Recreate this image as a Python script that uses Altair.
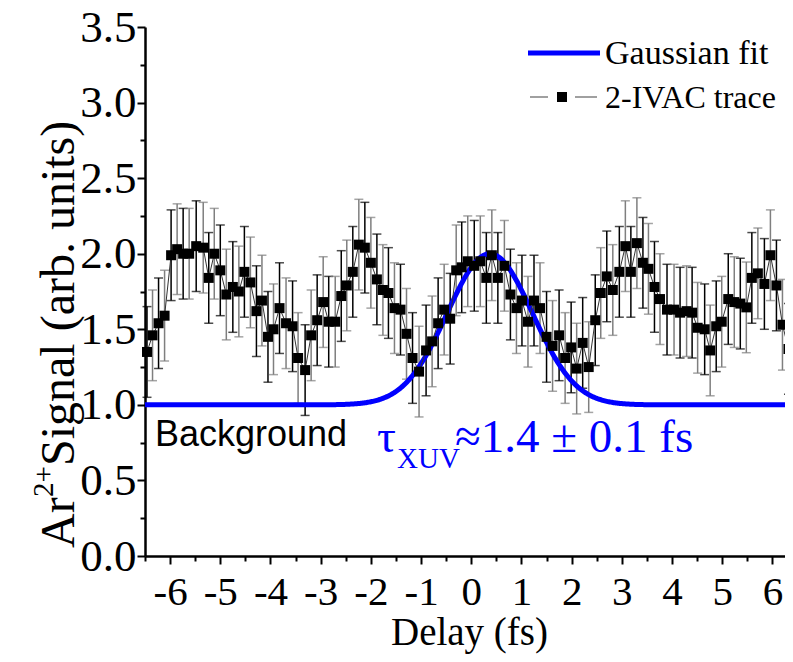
import altair as alt
import pandas as pd

# ---------------- data ----------------
DELAY = [-6.46, -6.35, -6.23, -6.11, -5.98, -5.86, -5.74, -5.62, -5.48, -5.34,
         -5.23, -5.12, -5.00, -4.88, -4.75, -4.63, -4.52, -4.40, -4.28, -4.17,
         -4.05, -3.94, -3.82, -3.69, -3.56, -3.45, -3.31, -3.19, -3.07, -2.95,
         -2.84, -2.71, -2.59, -2.48, -2.36, -2.24, -2.12, -2.00, -1.88, -1.76,
         -1.65, -1.53, -1.41, -1.29, -1.17, -1.04, -0.90, -0.78, -0.66, -0.54,
         -0.42, -0.30, -0.19, -0.07, 0.06, 0.18, 0.30, 0.41, 0.53, 0.66,
         0.78, 0.90, 1.01, 1.13, 1.25, 1.37, 1.50, 1.62, 1.75, 1.87,
         1.99, 2.10, 2.22, 2.34, 2.47, 2.58, 2.70, 2.82, 2.95, 3.07,
         3.18, 3.30, 3.42, 3.53, 3.65, 3.76, 3.90, 4.04, 4.16, 4.29,
         4.40, 4.51, 4.65, 4.76, 4.88, 4.99, 5.12, 5.24, 5.36, 5.48,
         5.59, 5.71, 5.84, 5.96, 6.08, 6.20, 6.32]
SIGNAL = [1.35, 1.46, 1.54, 1.59, 1.99, 2.03, 2.00, 2.00, 2.05, 2.04,
          1.84, 2.00, 1.89, 1.73, 1.78, 1.75, 1.88, 1.81, 1.62, 1.69,
          1.45, 1.50, 1.64, 1.54, 1.52, 1.31, 1.23, 1.46, 1.56, 1.68,
          1.55, 1.55, 1.72, 1.79, 1.88, 2.06, 2.04, 1.94, 1.83, 1.76,
          1.74, 1.64, 1.63, 1.47, 1.31, 1.22, 1.36, 1.42, 1.54, 1.63,
          1.57, 1.89, 1.91, 1.95, 1.92, 1.95, 1.84, 1.99, 1.84, 1.92,
          1.73, 1.64, 1.69, 1.55, 1.69, 1.64, 1.45, 1.39, 1.46, 1.31,
          1.38, 1.24, 1.41, 1.25, 1.56, 1.74, 1.85, 1.76, 1.88, 2.05,
          1.88, 2.07, 1.94, 1.90, 1.78, 1.70, 1.63, 1.63, 1.61, 1.62,
          1.61, 1.51, 1.50, 1.36, 1.52, 1.55, 1.70, 1.68, 1.67, 1.645,
          1.84, 1.87, 1.80, 1.99, 1.79, 1.53, 1.37]
ERR_HALF = 0.30          # half length of the error bars

# Gaussian fit parameters
FIT_BASE = 1.0
FIT_AMP = 1.0
FIT_CENTER = 0.37
FIT_FWHM = 2.0

X_DOMAIN = [-6.5, 6.41]
Y_DOMAIN = [0.0, 3.5]
X_TICKS = [-6, -5, -4, -3, -2, -1, 0, 1, 2, 3, 4, 5, 6]
X_MINOR = [-6.5, -5.5, -4.5, -3.5, -2.5, -1.5, -0.5, 0.5, 1.5, 2.5, 3.5, 4.5, 5.5, 6.5]
Y_TICKS = [0.0, 0.5, 1.0, 1.5, 2.0, 2.5, 3.0, 3.5]
Y_MINOR = [0.25, 0.75, 1.25, 1.75, 2.25, 2.75, 3.25]

LEGEND_FIT = "Gaussian fit"
LEGEND_TRACE = "2-IVAC trace"
X_TITLE = "Delay (fs)"
BACKGROUND_TEXT = "Background"

# ---------------- styling ----------------
SERIF = "Liberation Serif"
SANS = "Liberation Sans"
BLUE = "#0000ff"
PLOT_W = 640          # visible part of the plot inside the page
SCALE_W = 648         # the axis runs on past the right edge of the page

df = pd.DataFrame({"delay": DELAY, "signal": SIGNAL})
df["lo"] = df["signal"] - ERR_HALF
df["hi"] = df["signal"] + ERR_HALF
df["shade"] = ["a" if i % 2 == 0 else "b" for i in range(len(df))]

xs = alt.Scale(domain=X_DOMAIN, range=[0, SCALE_W], nice=False, zero=False)
ys = alt.Scale(domain=Y_DOMAIN, nice=False, zero=False)

major_x = alt.Axis(values=X_TICKS, labelExpr="toString(datum.value)", title=X_TITLE,
                   orient="bottom", grid=False, tickSize=8, tickWidth=2, domainWidth=2.5,
                   domainColor="black", tickColor="black", labelFont=SERIF,
                   labelFontSize=41, labelColor="black", labelPadding=8,
                   titleFont=SERIF, titleFontSize=39, titleFontWeight="normal",
                   titleColor="black", titlePadding=1, labelFlush=False, labelOverlap=False)
minor_x = alt.Axis(values=X_MINOR, labels=False, title=None, orient="bottom", grid=False,
                   tickSize=5, tickWidth=2, tickColor="black", domain=False)
major_y = alt.Axis(values=Y_TICKS, format=".1f", title=None, orient="left", grid=False,
                   tickSize=8, tickWidth=2, domainWidth=2.5, domainColor="black",
                   tickColor="black", labelFont=SERIF, labelFontSize=45,
                   labelColor="black", labelPadding=1, labelFlush=False, labelOverlap=False)
minor_y = alt.Axis(values=Y_MINOR, labels=False, title=None, orient="left", grid=False,
                   tickSize=5, tickWidth=2, tickColor="black", domain=False)

base = alt.Chart(df)

errbars = base.mark_errorbar(ticks={"size": 9, "thickness": 1.5},
                             rule={"strokeWidth": 1.5}).encode(
    x=alt.X("delay:Q", scale=xs, axis=minor_x),
    y=alt.Y("lo:Q", scale=ys, axis=minor_y),
    y2="hi:Q",
    color=alt.Color("shade:N", scale=alt.Scale(domain=["a", "b"], range=["#000000", "#7f7f7f"]),
                    legend=None),
)

gauss = alt.Chart(alt.sequence(X_DOMAIN[0], X_DOMAIN[1] + 0.01, 0.02, as_="t")).transform_calculate(
    g=f"{FIT_BASE} + {FIT_AMP} * exp(-4 * log(2) * pow(datum.t - ({FIT_CENTER}), 2) / pow({FIT_FWHM}, 2))"
).mark_line(color=BLUE, strokeWidth=5).encode(
    x=alt.X("t:Q", scale=xs, axis=None),
    y=alt.Y("g:Q", scale=ys, axis=None),
)

trace_line = base.mark_line(color="#333333", strokeWidth=1).encode(
    x=alt.X("delay:Q", scale=xs, axis=None),
    y=alt.Y("signal:Q", scale=ys, axis=None),
)

points = base.mark_square(size=100, color="black", opacity=1).encode(
    x=alt.X("delay:Q", scale=xs, axis=major_x),
    y=alt.Y("signal:Q", scale=ys, axis=major_y),
)


def label(text, x, y, size, font=SERIF, color="black", align="left", baseline="middle", angle=0):
    return alt.Chart(pd.DataFrame({"txt": [text]})).mark_text(
        font=font, fontSize=size, color=color, align=align, baseline=baseline, angle=angle
    ).encode(x=alt.value(x), y=alt.value(y), text="txt:N")


def hline(x1, x2, y, color, width):
    return alt.Chart(pd.DataFrame({"k": [0]})).mark_rule(color=color, strokeWidth=width).encode(
        x=alt.value(x1), x2=alt.value(x2), y=alt.value(y))


legend = [
    hline(383, 455, 26, BLUE, 5),
    label(LEGEND_FIT, 460, 27, 34),
    hline(385, 403, 70, "#808080", 1.5),
    hline(430, 452, 70, "#808080", 1.5),
    alt.Chart(pd.DataFrame({"k": [0]})).mark_square(size=100, color="black", opacity=1).encode(
        x=alt.value(417), y=alt.value(70)),
    label(LEGEND_TRACE, 460, 71, 32),
]

annotations = [
    label(BACKGROUND_TEXT, 10, 408, 36, font=SANS),
    label("τ", 232, 425, 47, color=BLUE, baseline="alphabetic"),
    label("XUV", 252, 441, 29, color=BLUE, baseline="alphabetic"),
    label("≈1.4 ± 0.1 fs", 310, 425, 47, color=BLUE, baseline="alphabetic"),
]

ytitle = [
    label("Ar", -71, 521, 48, baseline="alphabetic", angle=270),
    label("2+", -92, 470, 29, baseline="alphabetic", angle=270),
    label("Signal (arb. units)", -71, 439, 48, baseline="alphabetic", angle=270),
]

chart = alt.layer(errbars, gauss, trace_line, points, *legend, *annotations, *ytitle).resolve_axis(
    x="independent", y="independent"
).properties(
    width=PLOT_W, height=529,
    padding={"left": 137, "top": 19, "right": 0, "bottom": 98},
    autosize=alt.AutoSizeParams(type="none"),
    background="white",
).configure_view(stroke=None)

chart.save("out.html", embed_options={"renderer": "svg", "actions": False})
